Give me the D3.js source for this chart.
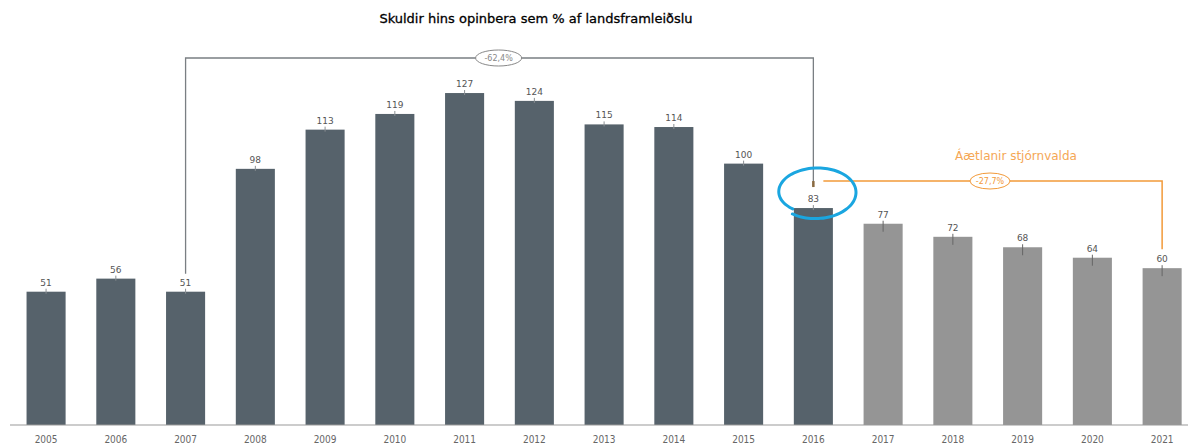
<!DOCTYPE html>
<html>
<head>
<meta charset="utf-8">
<script src="https://cdn.jsdelivr.net/npm/d3@7"></script>
<style>
  body { margin: 0; background: #fff; }
  text { font-family: "DejaVu Sans", sans-serif; }
</style>
</head>
<body>
<div id="chart"></div>
<script>
// data
var years = ["2005","2006","2007","2008","2009","2010","2011","2012","2013","2014","2015","2016","2017","2018","2019","2020","2021"];
var values = [51, 56, 51, 98, 113, 119, 127, 124, 115, 114, 100, 83, 77, 72, 68, 64, 60];
var planYears = ["2017","2018","2019","2020","2021"];
var title = "Skuldir hins opinbera sem % af landsframleiðslu";
var planTitle = "Áætlanir stjórnvalda";
var changeLabels = ["-62,4%", "-27,7%"];

var width = 1188, height = 446;

var svg = d3.select("#chart")
  .append("svg")
    .attr("width", width)
    .attr("height", height);

var data = years.map(function(y, i) { return {year: y, value: values[i], plan: planYears.indexOf(y) >= 0}; });

var x = d3.scaleBand()
  .domain(years)
  .range([11.2, 1197])
  .paddingInner(0.44)
  .paddingOuter(0.22);

var y = d3.scaleLinear()
  .domain([0, 130])
  .range([425, 85.2]);

function cx(yr) { return x(yr) + x.bandwidth() / 2; }
function valOf(yr) { return values[years.indexOf(yr)]; }

// title
svg.append("text")
  .attr("x", 536)
  .attr("y", 23)
  .attr("text-anchor", "middle")
  .style("font-size", "13px")
  .style("fill", "#000")
  .style("stroke", "#000")
  .style("stroke-width", 0.3)
  .text(title);

// bars
svg.append("g")
  .selectAll("rect")
  .data(data)
  .enter()
  .append("rect")
    .attr("x", function(d) { return x(d.year); })
    .attr("y", function(d) { return y(d.value); })
    .attr("width", x.bandwidth())
    .attr("height", function(d) { return y(0) - y(d.value); })
    .style("fill", function(d) { return d.plan ? "#959595" : "#56626b"; });

// small ticks on top of bars
svg.append("g")
  .selectAll("line")
  .data(data)
  .enter()
  .append("line")
    .attr("x1", function(d) { return cx(d.year); })
    .attr("x2", function(d) { return cx(d.year); })
    .attr("y1", function(d) { return y(d.value) - 3; })
    .attr("y2", function(d) { return y(d.value) + (d.plan ? 8 : 2); })
    .style("stroke", function(d) { return d.plan ? "#666" : "#8a8f93"; })
    .style("stroke-width", 1);

// value labels
svg.append("g")
  .selectAll("text")
  .data(data)
  .enter()
  .append("text")
    .attr("x", function(d) { return cx(d.year); })
    .attr("y", function(d) { return y(d.value) - 6; })
    .attr("text-anchor", "middle")
    .style("font-size", "9px")
    .style("fill", "#555")
    .text(function(d) { return d.value; });

// x axis
var xAxis = svg.append("g")
  .attr("transform", "translate(0,425)")
  .call(d3.axisBottom(x).tickSize(0).tickPadding(11));
xAxis.select(".domain").remove();
xAxis.selectAll("text")
  .style("font-family", "'DejaVu Sans Condensed', 'DejaVu Sans', sans-serif")
  .style("font-size", "10px")
  .style("fill", "#666");

svg.append("line")
  .attr("x1", 10)
  .attr("x2", width)
  .attr("y1", y(0))
  .attr("y2", y(0))
  .style("stroke", "#999")
  .style("stroke-width", 1);

// grey bracket 2007 -> 2016
var bTop = 58;
svg.append("path")
  .attr("d", "M" + cx("2007") + "," + (y(valOf("2007")) - 18) +
             "V" + bTop + "H" + cx("2016") + "V" + (y(valOf("2016")) - 22))
  .style("fill", "none")
  .style("stroke", "#7a7f83")
  .style("stroke-width", 1.3);

svg.append("line")
  .attr("x1", cx("2016")).attr("x2", cx("2016"))
  .attr("y1", y(valOf("2016")) - 27).attr("y2", y(valOf("2016")) - 21)
  .style("stroke", "#8a6a40")
  .style("stroke-width", 2.5);

function badge(px, py, txt, color, rx) {
  svg.append("ellipse")
    .attr("cx", px).attr("cy", py)
    .attr("rx", rx).attr("ry", 8)
    .style("fill", "#fff")
    .style("stroke", color)
    .style("stroke-width", 1);
  svg.append("text")
    .attr("x", px).attr("y", py + 3)
    .attr("text-anchor", "middle")
    .style("font-size", "8px")
    .style("fill", color)
    .text(txt);
}
badge(cx("2011") + 34, bTop, changeLabels[0], "#888", 23);

// orange bracket 2016 -> 2021
var oTop = 181;
svg.append("path")
  .attr("d", "M" + (cx("2016") + 10) + "," + oTop + "H" + cx("2021") +
             "V" + (y(valOf("2021")) - 19))
  .style("fill", "none")
  .style("stroke", "#f29a3a")
  .style("stroke-width", 1.5);
badge(990, oTop, changeLabels[1], "#f29a3a", 20);

svg.append("text")
  .attr("x", 1016)
  .attr("y", 160)
  .attr("text-anchor", "middle")
  .style("font-size", "12px")
  .style("fill", "#f5a755")
  .text(planTitle);

// hand drawn blue circle round 2016
var ringCx = cx("2016") + 3, ringCy = 192;
var angles = d3.range(0, 1.04, 0.02);
var ring = d3.line()
  .x(function(t) { var a = Math.PI * 0.72 + t * Math.PI * 2 * 0.97; return ringCx + (37 + 4 * t) * Math.cos(a); })
  .y(function(t) { var a = Math.PI * 0.72 + t * Math.PI * 2 * 0.97; return ringCy + (22 + 5 * t) * Math.sin(a); })
  .curve(d3.curveCatmullRom);
svg.append("path")
  .datum(angles)
  .attr("d", ring)
  .style("fill", "none")
  .style("stroke", "#1aa6e0")
  .style("stroke-width", 3)
  .style("stroke-linecap", "round");
</script>
</body>
</html>
